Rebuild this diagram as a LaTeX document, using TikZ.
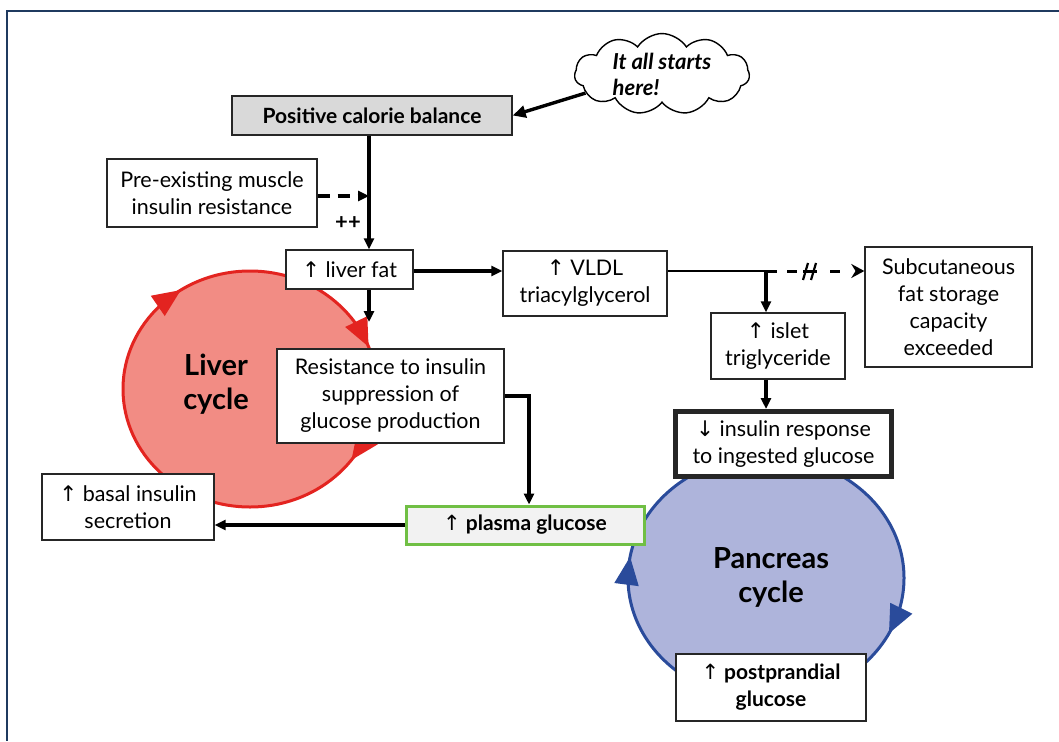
\documentclass[tikz,border=0pt]{standalone}
\usepackage{fontspec}
\setmainfont{Lato}
\newfontfamily\arrowfont{DejaVu Sans}
\newcommand{\upar}{{\arrowfont\mdseries ↑}}
\newcommand{\dnar}{{\arrowfont\mdseries ↓}}
\usetikzlibrary{arrows.meta,shapes.symbols,calc}
\definecolor{framec}{HTML}{1F3A5F}
\definecolor{pcbfill}{HTML}{D9D9D9}
\definecolor{liverfill}{HTML}{F28C84}
\definecolor{liverline}{HTML}{E32420}
\definecolor{pancfill}{HTML}{AEB4DB}
\definecolor{pancline}{HTML}{2A4B9B}
\definecolor{plasfill}{HTML}{F2F2F2}
\definecolor{plasline}{HTML}{70BF44}
\begin{document}
\begin{tikzpicture}[x=1pt,y=-1pt,
  box/.style={draw=black!85, line width=1.4, fill=white, align=center, inner sep=2,
    font=\fontsize{21.5}{27}\selectfont, text=black},
  boldbox/.style={box, font=\bfseries\fontsize{21}{27}\selectfont},
  arr/.style={line width=3.2, -{Triangle[length=11pt,width=10pt]}},
  cyclabel/.style={font=\bfseries\fontsize{29}{34}\selectfont, align=center},
  cycarrL/.style={liverline, line width=2.5, -{Triangle[length=28pt,width=24pt]}},
  cycarrP/.style={pancline, line width=2.5, -{Triangle[length=28pt,width=24pt]}}]
\useasboundingbox (0,0) rectangle (1059,741);
\fill[white] (0,0) rectangle (1059,741);
\draw[framec, line width=2] (1059,11) -- (7,11) -- (7,741);

% cycles
\filldraw[fill=liverfill, draw=liverline, line width=3] (250,389) ellipse [x radius=127, y radius=118];
\filldraw[fill=pancfill, draw=pancline, line width=3] (766,578) ellipse [x radius=138, y radius=122];
\foreach \a in {237,339,37}{
  \draw[cycarrL] ({250+127*cos(\a-7)},{389+118*sin(\a-7)}) -- ({250+127*cos(\a)},{389+118*sin(\a)});}
\foreach \a in {27,190}{
  \draw[cycarrP] ({766+138*cos(\a-7)},{578+122*sin(\a-7)}) -- ({766+138*cos(\a)},{578+122*sin(\a)});}
\node[cyclabel] (livlab) at (216,384) {Liver\\cycle};
\node[cyclabel] (panlab) at (771,577) {Pancreas\\cycle};

% nodes
\node[cloud, cloud puffs=11, cloud puff arc=115, aspect=2.5, draw, line width=1.4, fill=white,
  minimum width=175, minimum height=70, inner sep=0, align=left,
  font=\bfseries\itshape\fontsize{22}{26}\selectfont] (cloud) at (662,74) {It all starts\\here!};
\node[boldbox, fill=pcbfill, minimum width=280, minimum height=39] (pcb) at (372,115.5) {Positive calorie balance};
\node[box, minimum width=210, minimum height=68] (pre) at (212,193) {Pre-existing muscle\\insulin resistance};
\node[box, minimum width=127, minimum height=39] (lf) at (349.5,269.5) {\upar\ liver fat};
\node[box, minimum width=164, minimum height=65] (vldl) at (585,283.5) {\upar\ VLDL\\triacylglycerol};
\node[box, minimum width=167, minimum height=120] (subq) at (948.5,307) {Subcutaneous\\fat storage\\capacity\\exceeded};
\node[box, minimum width=134, minimum height=66] (islet) at (778,346) {\upar\ islet\\triglyceride};
\node[box, minimum width=227, minimum height=94] (resist) at (390.5,396) {Resistance to insulin\\suppression of\\glucose production};
\node[box, line width=5, minimum width=216, minimum height=65] (insresp) at (783.5,444) {\dnar\ insulin response\\to ingested glucose};
\node[box, minimum width=172, minimum height=66] (basal) at (128,507) {\upar\ basal insulin\\secretion};
\node[boldbox, draw=plasline, fill=plasfill, line width=3, minimum width=238, minimum height=38] (plasma) at (525,525) {\upar\ plasma glucose};
\node[boldbox, minimum width=190, minimum height=67] (postp) at (771,687.5) {\upar\ postprandial\\glucose};
\node[font=\bfseries\fontsize{22}{22}\selectfont] (pp) at (348,223) {++};

% helper coordinates
\coordinate (jx) at (369,0);
\coordinate (j2) at (766,271);
\coordinate (jx3) at (529,0);
\coordinate (lfend) at (369,322);

% connectors
\draw[line width=3.4, -{Triangle[length=13pt,width=12pt]}] (cloud.194) -- (pcb.east);
\draw[arr] (pcb.south -| jx) -- (lf.north -| jx);
\draw[arr, dash pattern=on 12pt off 8pt] (pre.east |- 0,196) -- (jx |- 0,196);
\draw[arr] (lf.east |- j2) -- (vldl.west |- j2);
\draw[arr] (lf.south -| jx) -- (lfend);
\draw[line width=1.5] (vldl.east |- j2) -- (j2);
\draw[line width=3, dash pattern=on 11pt off 10pt on 10pt off 6pt on 14pt off 13pt on 10pt off 40pt,
  -{Stealth[length=13pt,width=14pt]}] (j2) -- (subq.west |- j2);
\draw[line width=2.2] ($(j2)+(37,9)$) -- ($(j2)+(42,-8)$);
\draw[line width=2.2] ($(j2)+(45,9)$) -- ($(j2)+(50,-8)$);
\draw[arr] (j2) -- (islet.north -| j2);
\draw[arr] (islet.south -| j2) -- (insresp.north -| j2);
\draw[arr] (resist.east) -- (resist.east -| jx3) -- (plasma.north -| jx3);
\draw[arr] (plasma.west) -- (plasma.west -| basal.east);
\end{tikzpicture}
\end{document}
